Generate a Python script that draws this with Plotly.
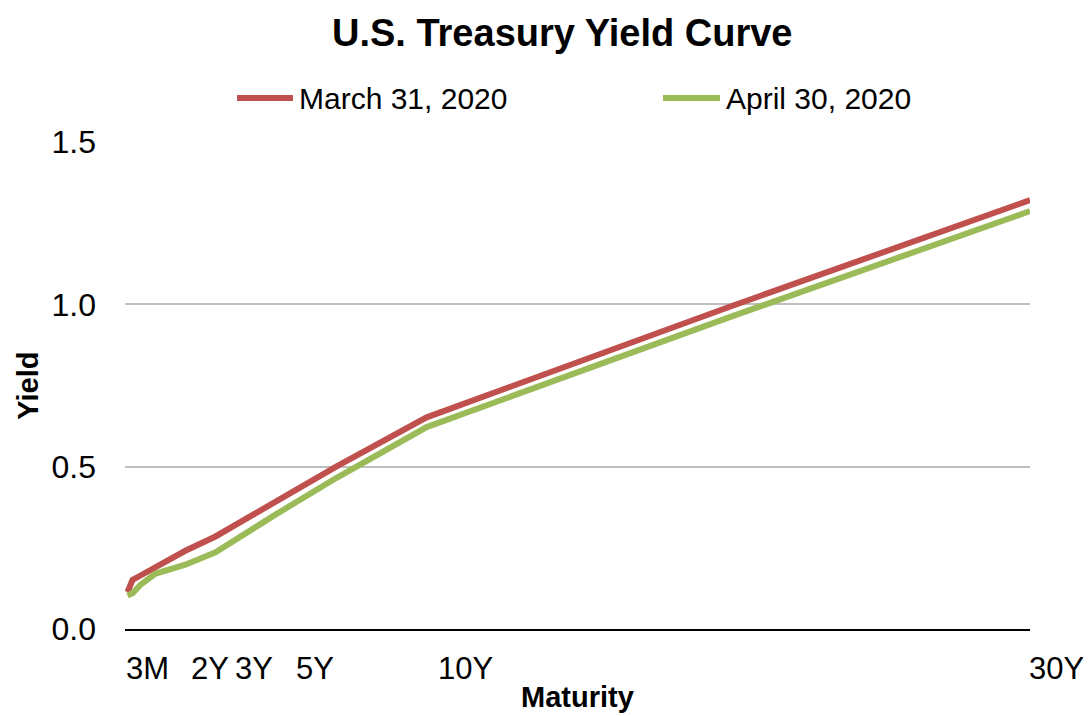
import plotly.graph_objects as go

# Maturities in years
maturity_years = [1/12, 2/12, 0.25, 0.5, 1, 2, 3, 5, 7, 10, 20, 30]
march_31_2020 = [0.114, 0.138, 0.151, 0.164, 0.190, 0.241, 0.285, 0.394, 0.500, 0.652, 0.991, 1.321]
april_30_2020 = [0.103, 0.107, 0.110, 0.135, 0.170, 0.198, 0.236, 0.353, 0.465, 0.622, 0.959, 1.287]

tick_labels = ["3M", "2Y", "3Y", "5Y", "10Y", "30Y"]
tick_years = [0.25, 2, 3, 5, 10, 30]
tick_shift_px = [15, 25, 38, 39, 39, 26]

series_names = ["March 31, 2020", "April 30, 2020"]
series_colors = ["#C0504D", "#9BBB59"]

FONT = "Liberation Sans, Arial, sans-serif"

fig = go.Figure()
for name, vals, col in zip(series_names, [march_31_2020, april_30_2020], series_colors):
    fig.add_trace(go.Scatter(
        x=maturity_years, y=vals, mode="lines", name=name,
        line=dict(color=col, width=6), showlegend=False,
    ))

annotations = []
for lab, yr, sh in zip(tick_labels, tick_years, tick_shift_px):
    annotations.append(dict(
        x=yr, xref="x", y=-0.082, yref="paper", text=lab, showarrow=False,
        xanchor="center", yanchor="middle", xshift=sh,
        font=dict(family=FONT, size=31, color="#000000"),
    ))
annotations.append(dict(
    x=0.5, xref="paper", y=-0.140, yref="paper", text="<b>Maturity</b>", showarrow=False,
    xanchor="center", yanchor="middle",
    font=dict(family=FONT, size=29, color="#000000"),
))
annotations.append(dict(
    x=-0.108, xref="paper", y=0.5, yref="paper", text="<b>Yield</b>", showarrow=False,
    xanchor="center", yanchor="middle", textangle=-90,
    font=dict(family=FONT, size=29, color="#000000"),
))

# manual legend (line samples + labels)
legend_line_x = [(0.1238, 0.1856), (0.5945, 0.6575)]
legend_text_x = [0.190, 0.6619]
legend_y = 1.0903
shapes = []
for (x0, x1), tx, name, col in zip(legend_line_x, legend_text_x, series_names, series_colors):
    shapes.append(dict(type="line", xref="paper", yref="paper", x0=x0, x1=x1,
                       y0=legend_y, y1=legend_y, line=dict(color=col, width=6)))
    annotations.append(dict(x=tx, xref="paper", y=legend_y, yref="paper", text=name,
                            showarrow=False, xanchor="left", yanchor="middle",
                            font=dict(family=FONT, size=30, color="#000000")))

fig.update_layout(
    width=1091, height=716,
    paper_bgcolor="white", plot_bgcolor="white",
    margin=dict(l=117, r=69, t=134, b=95, autoexpand=False),
    title=dict(text="<b>U.S. Treasury Yield Curve</b>", x=0.508, xanchor="center",
               y=0.965, yanchor="middle", xref="container", yref="container",
               font=dict(family=FONT, size=38, color="#000000")),
    font=dict(family=FONT, size=30, color="#000000"),
    showlegend=False,
    annotations=annotations,
    shapes=shapes,
)
fig.update_xaxes(range=[0, 30], showgrid=False, zeroline=False, showticklabels=False,
                 showline=True, linecolor="#000000", linewidth=2, ticks="")
fig.update_yaxes(range=[0, 1.5], tickvals=[0, 0.5, 1.0, 1.5], tickformat=".1f",
                 showgrid=True, gridcolor="#BFBFBF", gridwidth=1.5, zeroline=False,
                 showline=False, ticks="", ticklabelstandoff=28,
                 tickfont=dict(family=FONT, size=32, color="#000000"))

fig.write_html("out.html")
